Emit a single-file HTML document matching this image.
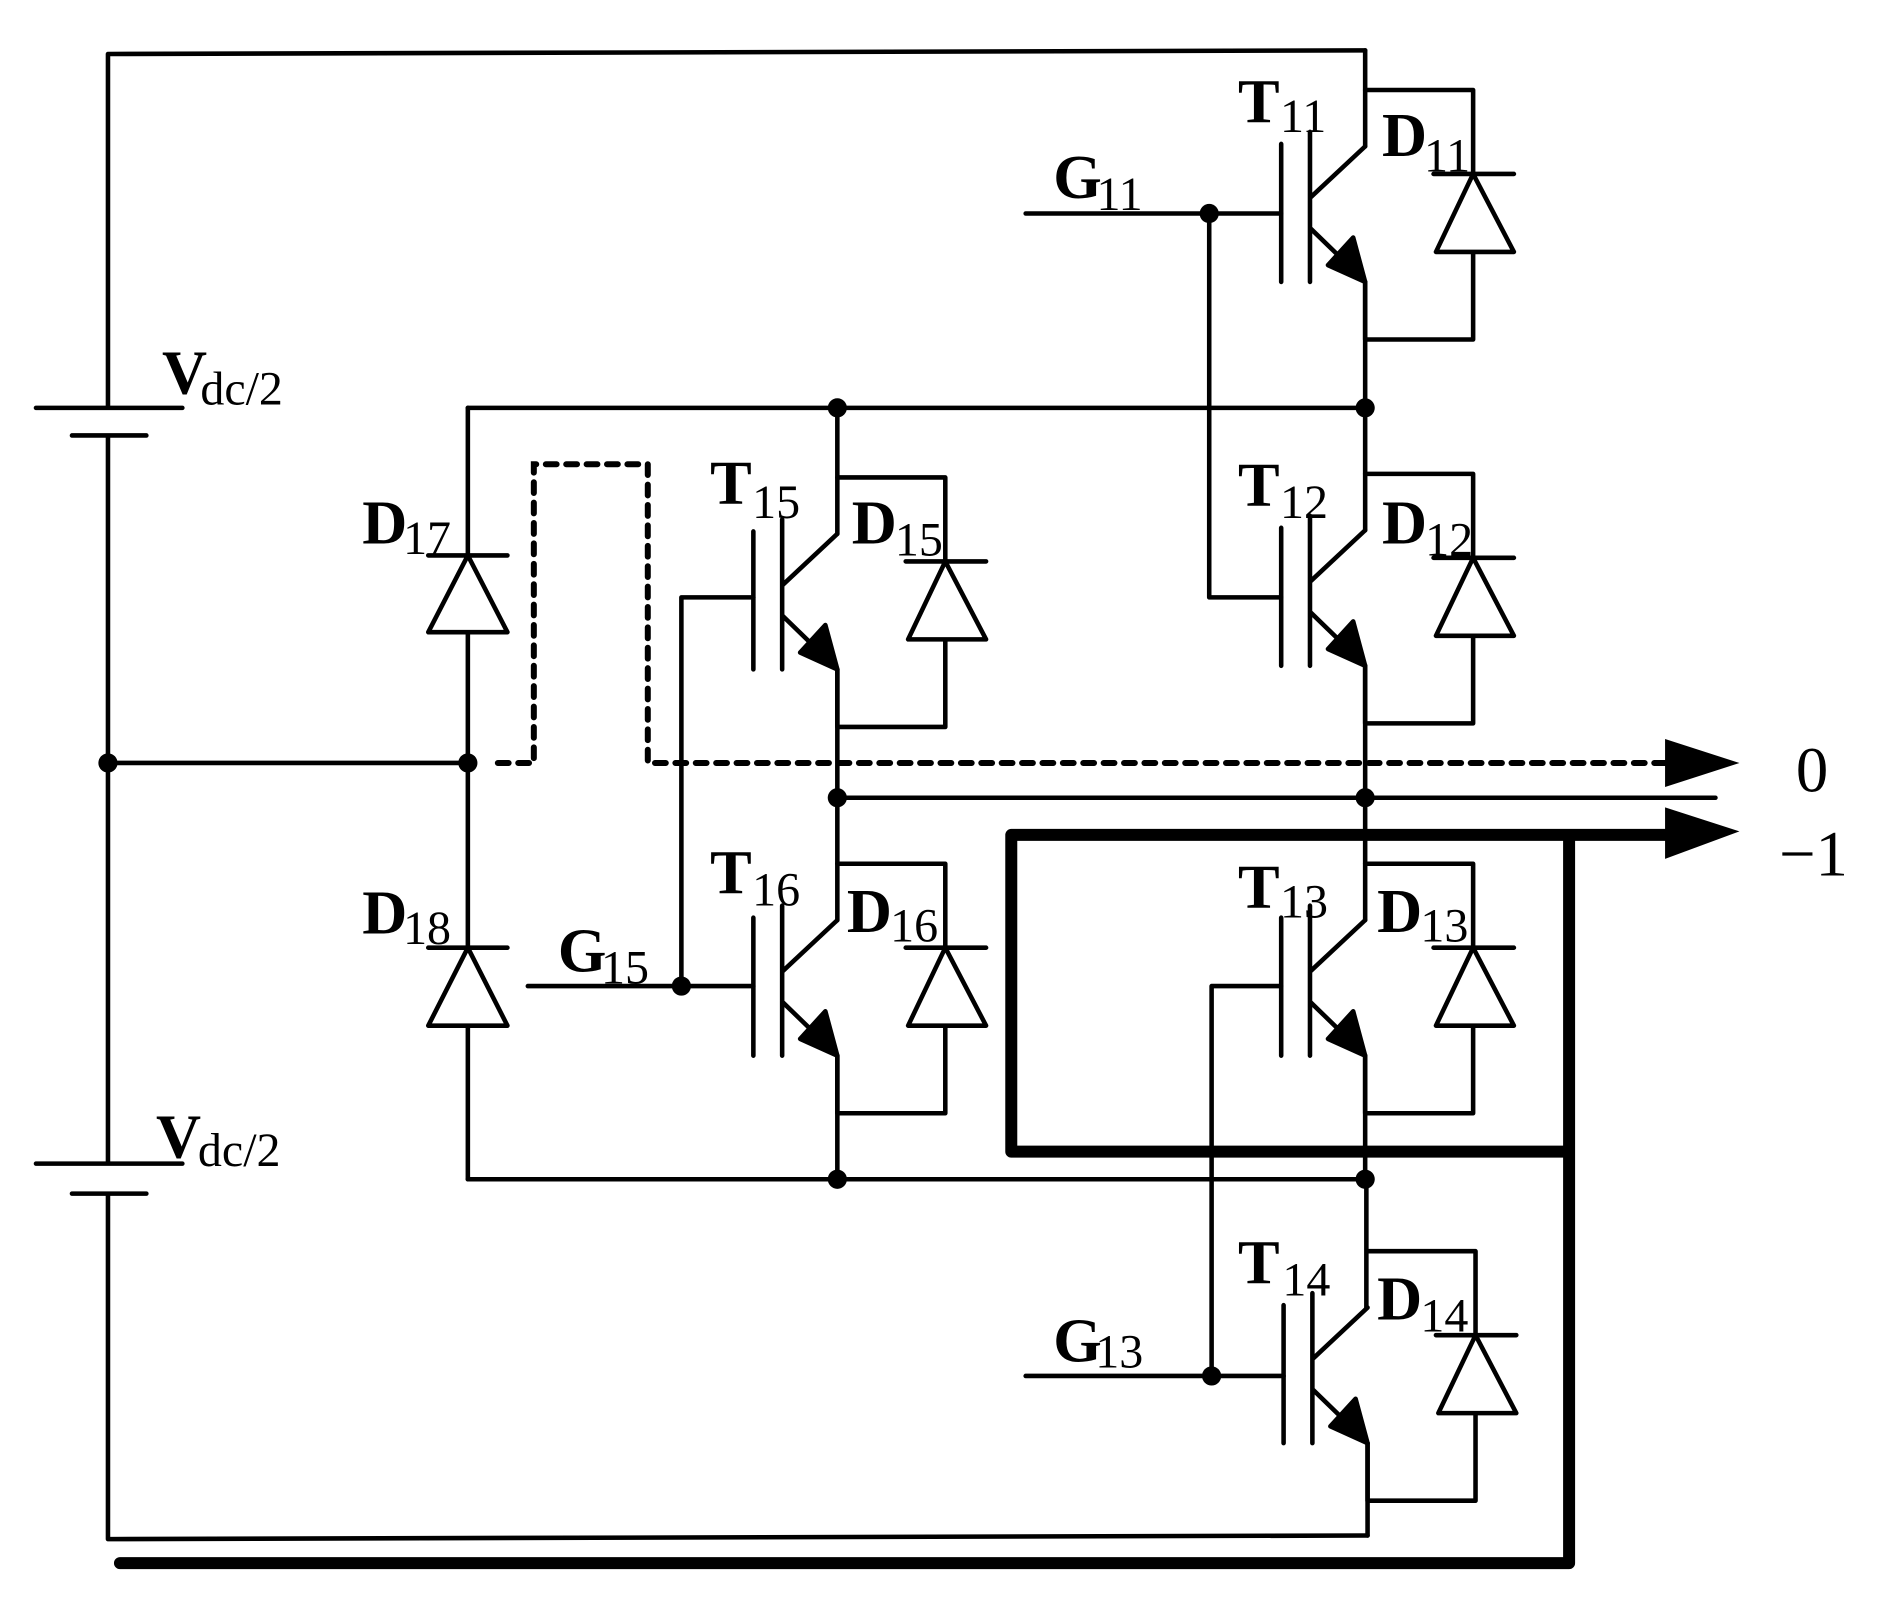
<!DOCTYPE html>
<html><head><meta charset="utf-8"><style>
html,body{margin:0;padding:0;background:#fff}
svg{display:block}
text{font-family:"Liberation Serif",serif;fill:#000}
.m{font-size:52px;font-weight:bold}
.s{font-size:40px}
</style></head><body>
<svg width="1881" height="1613" viewBox="0 0 1568 1344.6" xmlns="http://www.w3.org/2000/svg">
<g fill="none" stroke="#000" stroke-width="3.8" stroke-linecap="round" stroke-linejoin="round">
<path d="M1138,42 L90,45 V340 M30,340 H152 M60,363 H122 M90,363 V970 M30,970 H152 M60,995 H122 M90,995 V1283 L1140,1280"/>
<path d="M1138,42 V122 M1138,235 V442 M1138,555 V767 M1138,880 V983 M1139,983 V1090 M1140,1203 V1280"/>
<path d="M698,340 V445 M698,558 V767 M698,880 V983"/>
<path d="M390,340 H1138 M90,636 H390 M698,665 H1430 M390,983 H1138"/>
<path d="M390,340 V463 M357,463 H423 M390,463 L357,527 H423 Z M390,527 V790 M357,790 H423 M390,790 L357,855 H423 Z M390,855 V983"/>
<path d="M855,178 H1068 M1008,178 V498 H1068 M855,1147 H1070 M1010,1147 V822 H1068 M568,822 V498 H628 M440,822 H628"/>
</g>
<defs>
<g id="ig" fill="none" stroke="#000" stroke-width="3.8" stroke-linecap="round" stroke-linejoin="round">
<path d="M0,0 L-46,43 M-46,-12 V113 M-70,-2 V113 M-46,68 L-14,99 M0,113 V161 H90 V88 M90,23 V-47 H0 M57,23 H124 M90,23 L59,88 H124 Z"/>
<polygon points="0,113 -31,99 -10,76" fill="#000"/>
</g>
</defs>
<use href="#ig" x="1138" y="122"/>
<use href="#ig" x="1138" y="442"/>
<use href="#ig" x="1138" y="767"/>
<use href="#ig" x="1140" y="1090"/>
<use href="#ig" x="698" y="445"/>
<use href="#ig" x="698" y="767"/>
<path d="M415,636 H445 V387 H540 V636 H1390" fill="none" stroke="#000" stroke-width="5" stroke-dasharray="9,8" stroke-linecap="round"/>
<polygon points="1388,616 1450,636 1388,656" fill="#000"/>
<path d="M1388,696 H843 V960 H1308 M1308,700 V1303 H100" fill="none" stroke="#000" stroke-width="10" stroke-linejoin="round" stroke-linecap="round"/>
<polygon points="1388,673 1450,693 1388,716" fill="#000"/>
<g fill="#000">
<circle cx="1008" cy="178" r="8"/><circle cx="698" cy="340" r="8"/><circle cx="1138" cy="340" r="8"/>
<circle cx="90" cy="636" r="8"/><circle cx="390" cy="636" r="8"/><circle cx="698" cy="665" r="8"/>
<circle cx="1138" cy="665" r="8"/><circle cx="698" cy="983" r="8"/><circle cx="1138" cy="983" r="8"/>
<circle cx="568" cy="822" r="8"/><circle cx="1010" cy="1147" r="8"/>
</g>
<text class="m" x="1032" y="102">T</text><text class="s" x="1067" y="110">11</text>
<text class="m" x="1152" y="130">D</text><text class="s" x="1187" y="143">11</text>
<text class="m" x="878" y="165" font-weight="normal">G</text><text class="s" x="914" y="175">11</text>
<text class="m" x="1032" y="422">T</text><text class="s" x="1067" y="432">12</text>
<text class="m" x="1152" y="453">D</text><text class="s" x="1188" y="463">12</text>
<text class="m" x="592" y="420">T</text><text class="s" x="627" y="432">15</text>
<text class="m" x="710" y="453">D</text><text class="s" x="746" y="463">15</text>
<text class="m" x="302" y="453">D</text><text class="s" x="336" y="462">17</text>
<text class="m" x="592" y="745">T</text><text class="s" x="627" y="755">16</text>
<text class="m" x="706" y="777">D</text><text class="s" x="742" y="785">16</text>
<text class="m" x="1032" y="757">T</text><text class="s" x="1067" y="765">13</text>
<text class="m" x="1148" y="777">D</text><text class="s" x="1184" y="785">13</text>
<text class="m" x="302" y="778">D</text><text class="s" x="336" y="787">18</text>
<text class="m" x="465" y="810" font-weight="normal">G</text><text class="s" x="501" y="820">15</text>
<text class="m" x="1032" y="1070">T</text><text class="s" x="1069" y="1080">14</text>
<text class="m" x="1148" y="1100">D</text><text class="s" x="1184" y="1110">14</text>
<text class="m" x="878" y="1135" font-weight="normal">G</text><text class="s" x="913" y="1140">13</text>
<text class="m" x="135" y="328">V</text><text class="s" x="167" y="337">dc/2</text>
<text class="m" x="130" y="965">V</text><text class="s" x="165" y="972">dc/2</text>
<text x="1497" y="660" style="font-size:54px">0</text>
<text x="1483" y="730" style="font-size:54px">−1</text>
</svg>
</body></html>
